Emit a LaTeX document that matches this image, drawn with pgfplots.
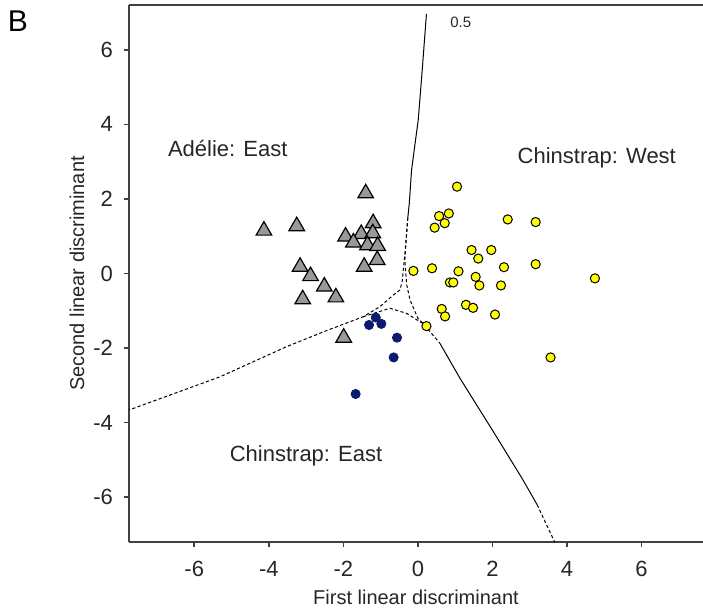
\documentclass[border=0pt]{standalone}
\usepackage{fontspec}
\setmainfont{Liberation Sans}
\usepackage{pgfplots}
\usepackage{pgfplotstable}
\pgfplotsset{compat=1.18}
\usetikzlibrary{calc}

\definecolor{spine}{HTML}{404040}
\definecolor{adeliegray}{HTML}{999999}
\definecolor{westyellow}{HTML}{FFFF00}
\definecolor{eastnavy}{HTML}{0D1A6E}

% Adelie: East (triangles)
\pgfplotstableread{
x y
-1.40 2.15
-4.13 1.15
-3.25 1.27
-1.20 1.35
-1.94 0.99
-1.52 1.06
-1.21 1.08
-1.73 0.83
-1.35 0.76
-1.08 0.74
-1.09 0.36
-1.44 0.18
-3.16 0.18
-2.88 -0.07
-2.51 -0.35
-2.20 -0.64
-3.09 -0.69
-1.99 -1.72
}\adelie

% Chinstrap: West (yellow)
\pgfplotstableread{
x y
1.05 2.33
0.57 1.54
0.83 1.61
0.72 1.35
0.45 1.23
2.41 1.45
3.16 1.38
1.44 0.63
1.97 0.63
1.62 0.40
-0.12 0.07
0.38 0.14
1.09 0.06
2.31 0.17
3.16 0.25
4.75 -0.13
0.86 -0.24
0.95 -0.24
1.55 -0.09
1.65 -0.32
2.23 -0.32
0.64 -0.95
0.73 -1.15
1.29 -0.84
1.48 -0.92
2.07 -1.10
0.23 -1.41
3.56 -2.25
}\chinwest

% Chinstrap: East (navy)
\pgfplotstableread{
x y
-1.13 -1.18
-1.31 -1.38
-0.98 -1.35
-0.56 -1.72
-0.65 -2.25
-1.67 -3.23
}\chineast

\begin{document}
\begin{tikzpicture}
\begin{axis}[
  name=ax,
  scale only axis, width=287pt, height=268.5pt,
  xmin=-7.75, xmax=7.65, ymin=-7.2, ymax=7.2,
  axis lines*=left,
  axis line style={spine, line width=1pt},
  xtick={-6,-4,...,6}, ytick={-6,-4,...,6},
  tick align=outside, major tick length=2.5pt,
  tick style={spine, line width=0.8pt},
  /pgf/number format/assume math mode=true,
  tick label style={font=\fontsize{11}{11}\selectfont, text=black!85},
  xticklabel style={yshift=-3.5pt},
  yticklabel style={xshift=-2pt},
  label style={font=\fontsize{10}{10}\selectfont, text=black!85},
  xlabel={First linear discriminant},
  ylabel={Second linear discriminant},
  x label style={at={(axis description cs:0.5,-0.1155)}, anchor=base},
  y label style={at={(axis description cs:-0.0906,0.5)}, anchor=center},
  clip=true,
]
% decision boundaries
\addplot[black, line width=0.5pt] coordinates
  {(0.23,6.96) (0.12,5.5) (0.01,4.12) (-0.10,3.3) (-0.17,2.77) (-0.23,1.88) (-0.27,1.5)};
\addplot[black, line width=0.5pt, dash pattern=on 1.6pt off 1.2pt] coordinates
  {(-0.27,1.5) (-0.35,0.5) (-0.42,-0.2) (-0.48,-0.44) (-0.66,-0.58) (-1.02,-0.89) (-1.47,-1.16) (-2.5,-1.55) (-3.52,-1.96) (-5.31,-2.77) (-7.75,-3.66)};
\addplot[black, line width=0.5pt, dash pattern=on 1.6pt off 1.2pt] coordinates
  {(-0.27,1.5) (-0.35,0.36) (-0.30,-0.3) (-0.21,-0.71) (0.0,-1.2) (0.14,-1.34) (0.59,-1.87)};
\addplot[black, line width=0.5pt] coordinates
  {(0.59,-1.87) (1.13,-2.81) (2.0,-4.2) (2.8,-5.5) (3.2,-6.2)};
\addplot[black, line width=0.5pt, dash pattern=on 1.6pt off 1.2pt] coordinates
  {(3.2,-6.2) (3.67,-7.2)};
\addplot[black, line width=0.5pt, dash pattern=on 1.6pt off 1.2pt] coordinates
  {(-1.47,-1.16) (-0.75,-0.93) (-0.30,-1.07) (0.05,-1.29) (0.14,-1.34)};
% groups
\addplot[only marks, mark=triangle*, mark size=4.5pt,
  mark options={fill=adeliegray, draw=black, line width=0.6pt}] table {\adelie};
\addplot[only marks, mark=*, mark size=2.3pt,
  mark options={fill=westyellow, draw=black, line width=0.5pt}] table {\chinwest};
\addplot[only marks, mark=*, mark size=2.3pt,
  mark options={fill=eastnavy, draw=eastnavy}] table {\chineast};
\draw[spine, line width=1pt] (rel axis cs:0,1) -- (rel axis cs:1,1);
\node[font=\fontsize{11}{11}\selectfont, text=black!85] at (axis cs:-5.1,3.35) {Adélie: East};
\node[font=\fontsize{11}{11}\selectfont, text=black!85] at (axis cs:4.8,3.1) {Chinstrap: West};
\node[font=\fontsize{11}{11}\selectfont, text=black!85] at (axis cs:-3.0,-4.9) {Chinstrap: East};
\node[font=\fontsize{7.5}{8}\selectfont, text=black!85] at (axis cs:1.15,6.74) {0.5};
\end{axis}
\node[font=\fontsize{15}{15}\selectfont] at ($(ax.north west)+(-55.5pt,-8pt)$) {B};
\pgfresetboundingbox
\path ($(ax.south west)+(-64.5pt,-33pt)$) rectangle ($(ax.north east)+(0pt,2.5pt)$);
\end{tikzpicture}
\end{document}
